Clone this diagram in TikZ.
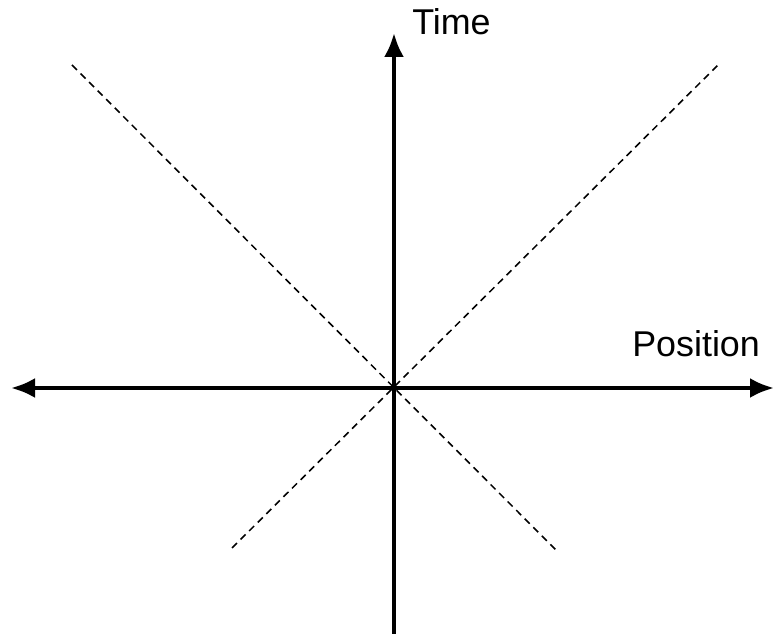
\documentclass[tikz,border=0pt]{standalone}
\usepackage{fontspec}
\setmainfont{Liberation Sans}
\usepackage{tikz}
\usetikzlibrary{arrows.meta,positioning,calc}

\tikzset{
  axis/.style={line width=2.9pt,-{Latex[length=.6cm,width=.5cm]}},
  axis2/.style={line width=2.9pt,{Latex[length=.6cm,width=.5cm]}-{Latex[length=.6cm,width=.5cm]}},
  cone/.style={line width=1.1pt,dash pattern=on 5pt off 3.6pt},
  lbl/.style={font=\fontsize{25.5pt}{30pt}\selectfont,inner sep=0pt}
}

\begin{document}
\begin{tikzpicture}[x=.025cm,y=.025cm]
\useasboundingbox (0,0) rectangle (774,636);
% axes ends
\coordinate (origin) at (394,248);
\coordinate (west) at (11,248);
\coordinate (east) at (774,248);
\coordinate (south) at (394,2);
\coordinate (north) at (394,603);
% light cone ends
\coordinate (nw) at (72,571);\coordinate (se) at (558,84);
\coordinate (sw) at (232,88);\coordinate (ne) at (718,571);
\draw[cone] (nw)--(se);
\draw[cone] (sw)--(ne);
% axes
\draw[axis2] (west)--(east);
\draw[axis] (south)--(north);
% labels
\node[lbl,anchor=base west] (time) at (412,601){Time};
\node[lbl,anchor=base west] (position) at (632,279){Position};
\end{tikzpicture}
\end{document}
